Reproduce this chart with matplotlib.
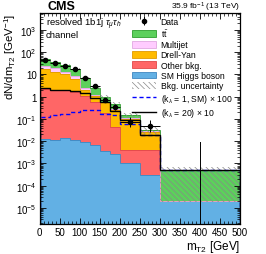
import numpy as np
import matplotlib
matplotlib.use("Agg")
import matplotlib.pyplot as plt
from matplotlib.patches import Patch
from matplotlib.lines import Line2D
from matplotlib.ticker import FixedLocator, LogLocator, NullFormatter, FuncFormatter

plt.rcParams['font.family'] = ['Liberation Sans', 'DejaVu Sans']
plt.rcParams['mathtext.fontset'] = 'custom'
plt.rcParams['mathtext.rm'] = 'Liberation Sans'
plt.rcParams['mathtext.it'] = 'Liberation Sans:italic'
plt.rcParams['mathtext.bf'] = 'Liberation Sans:bold'
plt.rcParams['hatch.linewidth'] = 0.5
plt.rcParams['hatch.color'] = '#888888'

# bin edges in GeV
edges = np.array([0, 25, 50, 75, 100, 125, 150, 175, 200, 250, 300, 500])

# per-process densities [GeV^-1]
higgs    = [0.013, 0.0118, 0.0135, 0.011, 0.0092, 0.0067, 0.0038, 0.0026, 0.00105, 0.0003, 0.000021]
other    = [2.29, 2.09, 1.89, 1.69, 1.09, 0.59, 0.186, 0.042, 0.003, 0.0037, 0.0]
dy       = [14.7, 10.5, 8.6, 4.6, 1.0, 0.5, 0.36, 0.205, 0.094, 0.023, 0.0]
multijet = [8.0, 6.4, 3.0, 2.0, 0.3, 0.1, 0.05, 0.03, 0.016, 0.001, 0.0]
ttbar    = [25.0, 19.0, 13.5, 9.7, 4.6, 1.2, 0.4, 0.2, 0.031, 0.004, 0.00046]

unc_up = [0.05, 0.05, 0.06, 0.07, 0.10, 0.12, 0.15, 0.20, 0.25, 0.32, 0.45]
unc_dn = [0.05, 0.05, 0.06, 0.07, 0.10, 0.12, 0.15, 0.20, 0.25, 0.32, 0.96]

data = [46, 33, 25, 18, 6.9, 2.95, 0.7, 0.35, 0.074, 0.049, 0.0]

sm_x100  = [0.12, 0.15, 0.17, 0.20, 0.26, 0.26, 0.17, 0.15, 0.057, 0.018, 0.00048]
k20_x10  = [2.4, 2.0, 2.0, 1.75, 1.4, 0.85, 0.57, 0.22, 0.093, 0.018, 0.00048]

xticks = [0, 50, 100, 150, 200, 250, 300, 350, 400, 450, 500]

ymin, ymax = 1.9e-6, 5.8e3
floor = 1e-8

fig = plt.figure(figsize=(2.66, 2.55), dpi=100)
ax = fig.add_axes([0.1485, 0.118, 0.7535, 0.827])
ax.set_yscale('log')

procs = [
    (higgs,    '#62b0e4', '#3f86c0', 'SM Higgs boson'),
    (other,    '#ff6666', '#e04848', 'Other bkg.'),
    (dy,       '#ffbb00', '#e09a00', 'Drell-Yan'),
    (multijet, '#ffccff', '#e0a8e0', 'Multijet'),
    (ttbar,    '#5cd05c', '#2e9e2e', r't$\bar{\mathrm{t}}$'),
]
base = np.full(len(edges) - 1, floor)
for vals, fc, ec, lab in procs:
    top = base + np.array(vals)
    ax.stairs(top, edges, baseline=base, fill=True, color=fc, lw=0)
    base = top
total = base

# outlines of the stack
base = np.full(len(edges) - 1, floor)
for vals, fc, ec, lab in procs:
    top = base + np.array(vals)
    ax.stairs(top, edges, baseline=None, color=ec, lw=0.6)
    base = top

# background uncertainty
lo = total * (1 - np.array(unc_dn))
hi = total * (1 + np.array(unc_up))
ax.stairs(hi, edges, baseline=lo, fill=True, facecolor='none', edgecolor='#888888',
          hatch='\\\\\\\\\\\\', lw=0)

# signal lines
ax.stairs(sm_x100, edges, baseline=floor, color='blue', lw=1.0, ls=(0, (3, 2)))
ax.stairs(k20_x10, edges, baseline=floor, color='black', lw=1.0)

# data
centers = 0.5 * (edges[1:] + edges[:-1])
widths = np.diff(edges)
data = np.array(data)
counts = data * widths
e_up = np.where(counts > 0, (np.sqrt(counts + 0.25) + 0.5) / widths, 1.84 / widths)
e_dn = np.where(counts > 0, (np.sqrt(counts + 0.25) - 0.5) / widths, 0)
nz = counts > 0
ax.errorbar(centers[nz], data[nz], xerr=widths[nz] / 2, yerr=[e_dn[nz], e_up[nz]],
            fmt='o', color='black', ms=3, elinewidth=0.7, capsize=0)
for c, u in zip(centers[~nz], e_up[~nz]):
    ax.plot([c, c], [floor, u], color='black', lw=0.7)

ax.set_xlim(0, 500)
ax.set_ylim(ymin, ymax)

ax.xaxis.set_major_locator(FixedLocator(xticks))
ax.xaxis.set_minor_locator(FixedLocator(np.arange(0, 501, 10)))
ax.xaxis.set_minor_formatter(NullFormatter())
ax.yaxis.set_major_locator(LogLocator(base=10, numticks=20))
ax.yaxis.set_minor_locator(LogLocator(base=10, subs=np.arange(2, 10), numticks=20))
ax.yaxis.set_minor_formatter(NullFormatter())


def fmt_y(v, pos):
    e = int(round(np.log10(v)))
    if e == 0:
        return '1'
    if e == 1:
        return '10'
    return r'$10^{%d}$' % e


ax.yaxis.set_major_formatter(FuncFormatter(fmt_y))
ax.tick_params(which='both', direction='in', top=True, right=True, labelsize=7, pad=2)
ax.tick_params(which='major', length=4, width=0.6)
ax.tick_params(which='minor', length=2, width=0.5)
for s in ax.spines.values():
    s.set_linewidth(0.9)

ax.set_xlabel(r'm$_{\mathrm{T2}}$ [GeV]', fontsize=8.5, loc='right', labelpad=1)
ax.set_ylabel(r'dN/dm$_{\mathrm{T2}}$ [GeV$^{-1}$]', fontsize=8.2, loc='top')
ax.yaxis.set_label_coords(-0.105, 1.0)

fig.text(0.178, 0.972, 'CMS', fontsize=9, fontweight='bold', va='center', ha='left')
fig.text(0.902, 0.972, r'35.9 fb$^{-1}$ (13 TeV)', fontsize=6.0, va='center', ha='right')
ax.text(0.03, 0.985, r'resolved 1b1j $\tau_{\mu}\tau_{h}$', transform=ax.transAxes,
        fontsize=6.8, va='top', ha='left')
ax.text(0.03, 0.92, 'channel', transform=ax.transAxes, fontsize=6.8, va='top', ha='left')

data_handle = ax.errorbar([], [], yerr=[], fmt='o', color='black', ms=3,
                          elinewidth=0.7, capsize=0)
handles = [
    data_handle,
    Patch(facecolor='#5cd05c', edgecolor='#2e9e2e', lw=0.6),
    Patch(facecolor='#ffccff', edgecolor='#e0a8e0', lw=0.6),
    Patch(facecolor='#ffbb00', edgecolor='#e09a00', lw=0.6),
    Patch(facecolor='#ff6666', edgecolor='#e04848', lw=0.6),
    Patch(facecolor='#62b0e4', edgecolor='#3f86c0', lw=0.6),
    Patch(facecolor='white', edgecolor='#888888', hatch='\\\\\\\\\\\\', lw=0),
    Line2D([], [], color='blue', lw=1.0, ls=(0, (3, 2))),
    Line2D([], [], color='black', lw=1.0),
]
labels = ['Data', r't$\bar{\mathrm{t}}$', 'Multijet', 'Drell-Yan', 'Other bkg.',
          'SM Higgs boson', 'Bkg. uncertainty',
          r'(k$_{\lambda}$ = 1, SM) $\times$ 100', r'(k$_{\lambda}$ = 20) $\times$ 10']
leg = ax.legend(handles, labels, loc='upper left', bbox_to_anchor=(0.497, 0.93),
                bbox_transform=fig.transFigure, frameon=False, fontsize=6.2,
                handlelength=2.8, handleheight=0.85, labelspacing=0.15,
                handletextpad=0.5, borderpad=0, borderaxespad=0)

fig.savefig('out.png', dpi=100)
